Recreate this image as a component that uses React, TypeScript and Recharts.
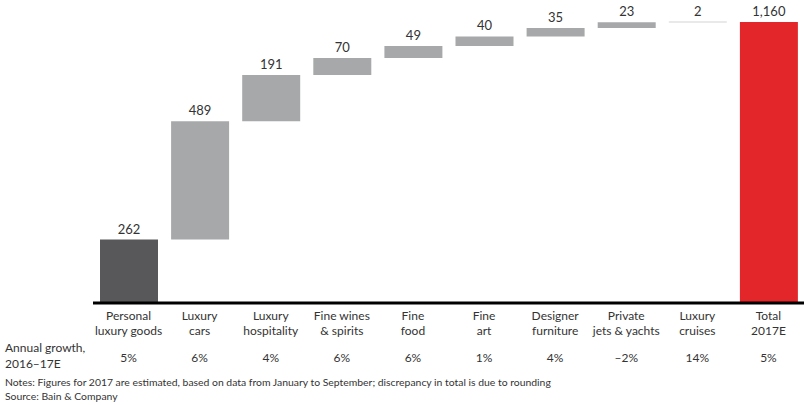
import { BarChart, Bar, XAxis, YAxis, LabelList, Cell } from "recharts";

const categories = [
  ["Personal", "luxury goods"],
  ["Luxury", "cars"],
  ["Luxury", "hospitality"],
  ["Fine wines", "& spirits"],
  ["Fine", "food"],
  ["Fine", "art"],
  ["Designer", "furniture"],
  ["Private", "jets & yachts"],
  ["Luxury", "cruises"],
  ["Total", "2017E"],
];
const values = [262, 489, 191, 70, 49, 40, 35, 23, 2, 1160];
const valueLabels = ["262", "489", "191", "70", "49", "40", "35", "23", "2", "1,160"];
const growth = ["5%", "6%", "4%", "6%", "6%", "1%", "4%", "\u20132%", "14%", "5%"];
const colors = ["#58585a", "#a7a8aa", "#a7a8aa", "#a7a8aa", "#a7a8aa", "#a7a8aa", "#a7a8aa", "#a7a8aa", "#a7a8aa", "#e3262a"];

const FONT = "Lato, 'Open Sans', sans-serif";

// waterfall: invisible base + visible step, last bar is the total
let running = 0;
const data = categories.map((c, i) => {
  const isTotal = i === categories.length - 1;
  const base = isTotal ? 0 : running;
  if (!isTotal) running += values[i];
  return { name: c.join(" "), base, value: values[i], label: valueLabels[i] };
});

const Tick = (props: any) => {
  const { x, y, payload } = props;
  const i = payload.index;
  const [l1, l2] = categories[i];
  return (
    <g>
      <text x={x} y={y + 9} textAnchor="middle" fontSize={12} fill="#333" fontFamily={FONT}>
        {l1}
      </text>
      <text x={x} y={y + 24} textAnchor="middle" fontSize={12} fill="#333" fontFamily={FONT}>
        {l2}
      </text>
      <text x={x} y={y + 51} textAnchor="middle" fontSize={12} fill="#333" fontFamily={FONT}>
        {growth[i]}
      </text>
    </g>
  );
};

export default function App() {
  return (
    <div style={{ position: "absolute", left: 0, top: 0, width: 804, height: 405, background: "#fff", fontFamily: FONT }}>
      <BarChart width={804} height={375} data={data} margin={{ top: 10, right: 0, bottom: 0, left: 93 }} barSize={58}>
        <XAxis
          dataKey="name"
          interval={0}
          axisLine={{ stroke: "#000", strokeWidth: 3 }}
          tickLine={false}
          height={72}
          tick={<Tick />}
        />
        <YAxis hide domain={[0, 1210]} />
        <Bar dataKey="base" stackId="a" fill="transparent" isAnimationActive={false} />
        <Bar dataKey="value" stackId="a" isAnimationActive={false}>
          {data.map((d, i) => (
            <Cell key={d.name} fill={colors[i]} />
          ))}
          <LabelList dataKey="label" position="top" offset={6} fontSize={13} fill="#333" fontFamily={FONT} />
        </Bar>
      </BarChart>
      <div style={{ position: "absolute", left: 5, top: 340, fontSize: 12, lineHeight: "16px", color: "#333" }}>
        Annual growth,
        <br />
        2016–17E
      </div>
      <div style={{ position: "absolute", left: 5, top: 375, fontSize: 10.4, lineHeight: "14px", color: "#333" }}>
        Notes: Figures for 2017 are estimated, based on data from January to September; discrepancy in total is due to rounding
        <br />
        Source: Bain &amp; Company
      </div>
    </div>
  );
}
